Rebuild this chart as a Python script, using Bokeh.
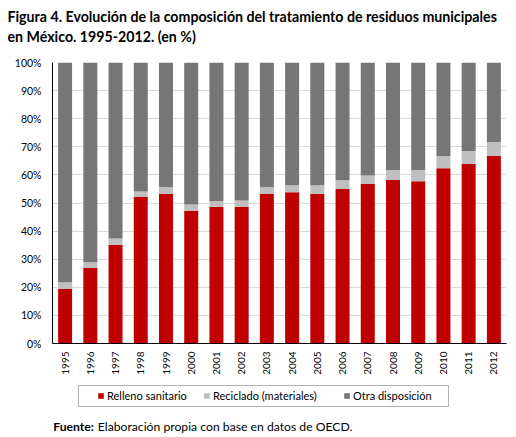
import math
from bokeh.plotting import figure
from bokeh.layouts import column
from bokeh.models import (FactorRange, Range1d, Label, Legend, LegendItem,
                          BoxAnnotation, PrintfTickFormatter, FixedTicker, ColumnDataSource)
from bokeh.embed import file_html
from bokeh.resources import INLINE

years = ["1995", "1996", "1997", "1998", "1999", "2000", "2001", "2002", "2003",
         "2004", "2005", "2006", "2007", "2008", "2009", "2010", "2011", "2012"]
relleno = [19.4, 26.9, 35.1, 52.1, 53.2, 47.2, 48.6, 48.6, 53.2,
           53.8, 53.2, 55.0, 56.8, 58.2, 57.7, 62.4, 63.9, 66.7]
reciclado = [2.4, 2.0, 2.3, 2.0, 2.4, 2.3, 2.0, 2.3, 2.4,
             2.5, 3.1, 3.1, 3.0, 3.5, 4.0, 4.2, 4.6, 5.0]
otra = [78.2, 71.1, 62.6, 45.9, 44.4, 50.5, 49.4, 49.1, 44.4,
        43.7, 43.7, 41.9, 40.2, 38.3, 38.3, 33.4, 31.5, 28.3]
series_names = ["Relleno sanitario", "Reciclado (materiales)", "Otra disposición"]
colors = ["#C00000", "#BFBFBF", "#767676"]
y_ticks = [0, 10, 20, 30, 40, 50, 60, 70, 80, 90, 100]

title_1 = "Figura 4. Evolución de la composición del tratamiento de residuos municipales"
title_2 = "en México. 1995-2012. (en %)"
source_bold = "Fuente:"
source_text = "Elaboración propia con base en datos de OECD."

FONT = "Lato"
W = 516
H_TOP, H_MAIN, H_FOOT = 56, 324, 57


def blank_fig(h):
    f = figure(width=W, height=h, x_range=Range1d(0, W), y_range=Range1d(h, 0),
               x_axis_type=None, y_axis_type=None, output_backend="svg",
               toolbar_location=None, min_border_left=0, min_border_right=0,
               min_border_top=0, min_border_bottom=0, frame_align=False)
    f.outline_line_color = None
    f.xgrid.visible = False
    f.ygrid.visible = False
    return f


# ---- title ----
ft = blank_fig(H_TOP)
for txt, yb in [(title_1, 15.5), (title_2, 35.5)]:
    ft.add_layout(Label(x=7, y=yb, text=txt, text_font=FONT, text_font_style="bold",
                        text_font_size="14.2px", text_color="black",
                        text_baseline="alphabetic", text_align="left"))

# ---- main chart ----
src = ColumnDataSource(data=dict(year=years, relleno=relleno, reciclado=reciclado, otra=otra))
p = figure(width=W, height=H_MAIN, x_range=FactorRange(*years), y_range=Range1d(0, 100),
           output_backend="svg", toolbar_location=None, frame_align=False,
           min_border_left=52, min_border_right=10, min_border_top=6, min_border_bottom=37)
p.outline_line_color = None
p.vbar_stack(["relleno", "reciclado", "otra"], x="year", width=0.555,
             color=colors, line_color=None, source=src)

p.yaxis.ticker = FixedTicker(ticks=y_ticks)
p.yaxis.formatter = PrintfTickFormatter(format="%d%%")
p.yaxis.axis_line_color = "black"
p.yaxis.major_tick_line_color = None
p.yaxis.minor_tick_line_color = None
p.yaxis.major_tick_out = 0
p.yaxis.major_tick_in = 0
p.yaxis.major_label_standoff = 11
p.yaxis.major_label_text_font = FONT
p.yaxis.major_label_text_font_size = "10.5px"
p.yaxis.major_label_text_color = "black"

p.xaxis.axis_line_color = "black"
p.xaxis.major_tick_line_color = None
p.xaxis.minor_tick_line_color = None
p.xaxis.major_tick_out = 0
p.xaxis.major_tick_in = 0
p.xaxis.major_label_orientation = math.pi / 2
p.xaxis.major_label_standoff = 8
p.xaxis.major_label_text_font = FONT
p.xaxis.major_label_text_font_size = "10px"
p.xaxis.major_label_text_color = "black"

p.ygrid.ticker = FixedTicker(ticks=y_ticks)
p.ygrid.grid_line_color = "#D9D9D9"
p.xgrid.grid_line_color = None

# ---- footer: legend + source ----
ff = blank_fig(H_FOOT)
ff.add_layout(BoxAnnotation(left=78, right=448, top=5, bottom=26,
                            fill_alpha=0, line_color="black", line_width=1))
# hidden copies of the series, used only as legend keys in this panel
key_src = ColumnDataSource(data=dict(i=list(range(len(years))), relleno=relleno,
                                     reciclado=reciclado, otra=otra))
legend_x = [97, 203, 343]
for name, col, c, lx in zip(series_names, ["relleno", "reciclado", "otra"], colors, legend_x):
    r = ff.vbar(x="i", top=col, width=0.5, color=c, line_color=None,
                source=key_src, visible=False)
    leg = Legend(items=[LegendItem(label=name, renderers=[r])],
                 location=(lx, 35), orientation="horizontal",
                 padding=0, margin=0, border_line_color=None, background_fill_alpha=0,
                 inactive_fill_alpha=0,
                 glyph_width=7, glyph_height=7, label_standoff=3,
                 label_height=13, label_text_font=FONT, label_text_font_size="11px",
                 label_text_color="black")
    ff.add_layout(leg, "center")

ff.add_layout(Label(x=52.7, y=46, text=source_bold, text_font=FONT, text_font_style="bold",
                    text_font_size="12.2px", text_color="black", text_baseline="alphabetic"))
ff.add_layout(Label(x=97.3, y=46, text=source_text, text_font=FONT,
                    text_font_size="12.2px", text_color="black", text_baseline="alphabetic"))

layout = column(ft, p, ff, spacing=0)
open("out.html", "w").write(file_html(layout, INLINE))
